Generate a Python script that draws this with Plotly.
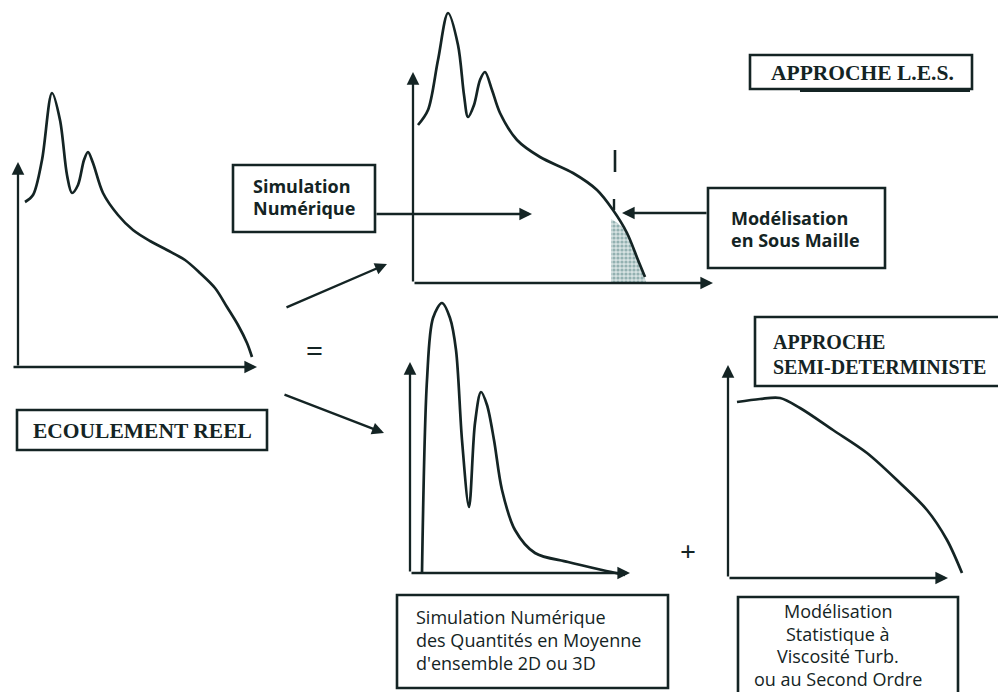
import plotly.graph_objects as go

INK = "#142424"

# ---- curve data (page pixel coordinates) ----
reel_x = [25, 33, 42, 52, 60, 67, 72, 78, 84, 88, 93, 103, 118, 133, 150, 167, 185, 200, 215, 227, 238, 247, 252]
reel_y = [202, 195, 160, 93, 120, 175, 193, 185, 160, 152, 163, 193, 215, 230, 241, 250, 260, 273, 288, 307, 325, 343, 357]

les_x = [418, 428, 438, 448, 458, 464, 468, 474, 480, 485, 492, 500, 517, 540, 573, 597, 613, 627, 638, 645]
les_y = [125, 110, 60, 13, 45, 95, 117, 105, 80, 72, 90, 113, 140, 157, 173, 190, 210, 233, 260, 277]

sgs_x = [611, 616, 621, 627, 633, 638, 643, 646, 611]
sgs_y = [219, 222, 226, 233, 247, 260, 272, 282, 282]

ens_x = [422, 427, 433, 442, 450, 456, 462, 469, 475, 481, 487, 494, 502, 515, 535, 568, 602, 625]
ens_y = [573, 380, 318, 303, 318, 350, 440, 507, 423, 392, 405, 440, 490, 530, 553, 562, 570, 575]

stat_x = [737, 760, 780, 800, 833, 867, 900, 927, 947, 962]
stat_y = [402, 399, 398, 408, 430, 453, 483, 510, 540, 573]

# ---- panel axes: (origin_x, origin_y, x_tip, y_tip) ----
panels = {
    "reel": (18, 367, 257, 162),
    "les": (413, 283, 713, 72),
    "ensemble": (410, 573, 630, 362),
    "stat": (728, 578, 948, 365),
}

# ---- text boxes: box (x0, y0, x1, y1), lines, line y, anchor x, align, font, size, bold ----
boxes = [
    ((750, 55, 972, 89), ["APPROCHE L.E.S."], [73], 862, "center", "serif", 21.5, True),
    ((233, 165, 375, 232), ["Simulation", "Numérique"], [186, 208], 251, "left", "sans", 18, True),
    ((708, 188, 885, 268), ["Modélisation", "en Sous Maille"], [218, 240], 729, "left", "sans", 18, True),
    ((17, 410, 267, 450), ["ECOULEMENT REEL"], [431], 142, "center", "serif", 21.5, True),
    ((755, 317, 1004, 386), ["APPROCHE", "SEMI-DETERMINISTE"], [342, 367], 771, "left", "serif", 20, True),
    ((397, 595, 668, 688), ["Simulation Numérique", "des Quantités en Moyenne", "d'ensemble 2D ou 3D"],
     [617, 640, 663], 414, "left", "sans", 18, False),
    ((738, 597, 958, 712), ["Modélisation", "Statistique à", "Viscosité Turb.", "ou au Second Ordre"],
     [611, 633.5, 656, 678.5], 838, "center", "sans", 18, False),
]

fonts = {"serif": "Liberation Serif", "sans": "Open Sans"}

fig = go.Figure()

curve_style = dict(mode="lines", line=dict(color=INK, width=2.7, shape="spline", smoothing=0.9),
                   hoverinfo="skip", showlegend=False)
fig.add_trace(go.Scatter(x=sgs_x, y=sgs_y, mode="lines", fill="toself",
                         fillcolor="rgba(255,255,255,0)",
                         fillpattern=dict(shape=".", fgcolor="#4f8080", bgcolor="#d6e2e2", size=4, solidity=0.5),
                         line=dict(width=0), hoverinfo="skip", showlegend=False))
for xs, ys in [(reel_x, reel_y), (les_x, les_y), (ens_x, ens_y), (stat_x, stat_y)]:
    fig.add_trace(go.Scatter(x=xs, y=ys, **curve_style))

annotations = []
shapes = []


def arrow(x0, y0, x1, y1, w=2.3, size=1.1, head=2):
    annotations.append(dict(x=x1, y=y1, ax=x0, ay=y0, xref="x", yref="y", axref="x", ayref="y",
                            showarrow=True, arrowhead=head, arrowsize=size, arrowwidth=w,
                            arrowcolor=INK, text=""))


for ox, oy, tx, ty in panels.values():
    arrow(ox, oy, ox, ty)
    arrow(ox - 6 if ox < 30 else ox, oy, tx, oy)

# flow arrows
arrow(375, 214, 532, 214)
arrow(708, 213, 622, 213)
arrow(285, 308, 387, 264, w=2.4, size=1.0)
arrow(283, 394, 384, 433, w=2.4, size=1.0)

# cutoff marks
shapes.append(dict(type="line", xref="x", yref="y", x0=615, y0=150, x1=615, y1=172, line=dict(color=INK, width=2.6)))
shapes.append(dict(type="line", xref="x", yref="y", x0=614, y0=199, x1=614, y1=210, line=dict(color=INK, width=2.4)))

for (x0, y0, x1, y1), lines, ys, tx, align, fam, size, bold in boxes:
    shapes.append(dict(type="rect", xref="x", yref="y", x0=x0, y0=y0, x1=x1, y1=y1,
                       line=dict(color=INK, width=2.6), fillcolor="rgba(0,0,0,0)"))
    for line, ty in zip(lines, ys):
        annotations.append(dict(x=tx, y=ty, xref="x", yref="y",
                                text=f"<b>{line}</b>" if bold else line, showarrow=False,
                                xanchor=align, yanchor="middle", align=align,
                                font=dict(family=fonts[fam], size=size, color=INK)))

# thickened lower edge of the L.E.S. box (scan shadow)
shapes.append(dict(type="line", xref="x", yref="y", x0=800, y0=91, x1=970, y1=91, line=dict(color=INK, width=2)))

annotations.append(dict(x=314, y=350, xref="x", yref="y", text="<b>=</b>", showarrow=False,
                        font=dict(family="Liberation Serif", size=30, color=INK)))
annotations.append(dict(x=688, y=551, xref="x", yref="y", text="<b>+</b>", showarrow=False,
                        font=dict(family="Liberation Serif", size=28, color=INK)))

# the page body keeps an 8px margin, so the figure covers page pixels 8..998 x 8..692
fig.update_layout(
    width=990, height=684,
    margin=dict(l=0, r=0, t=0, b=0),
    paper_bgcolor="white", plot_bgcolor="white",
    xaxis=dict(range=[8, 998], visible=False, fixedrange=True),
    yaxis=dict(range=[692, 8], visible=False, fixedrange=True),
    shapes=shapes, annotations=annotations,
    showlegend=False,
)

fig.write_html("out.html")
